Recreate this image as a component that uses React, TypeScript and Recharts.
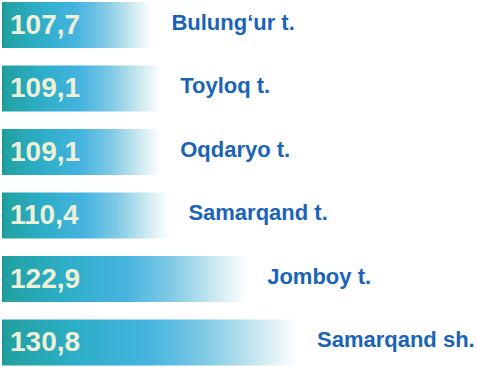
import React from 'react';
import { BarChart, Bar, XAxis, YAxis, LabelList } from 'recharts';

const categories = ['Bulung‘ur t.', 'Toyloq t.', 'Oqdaryo t.', 'Samarqand t.', 'Jomboy t.', 'Samarqand sh.'];
const values = [107.7, 109.1, 109.1, 110.4, 122.9, 130.8];

const data = categories.map((name, i) => ({ name, value: values[i] }));

const fmt = (v: number) => v.toFixed(1).replace('.', ',');

function ValueLabel(props: any) {
  const { x, y, height, value } = props;
  return (
    <text
      x={x + 8}
      y={y + height / 2 - 1}
      dominantBaseline="central"
      fill="#eef0d8"
      fontSize={28}
      fontWeight={700}
      fontFamily="Liberation Sans, Arial, sans-serif"
    >
      {fmt(Number(value))}
    </text>
  );
}

function NameLabel(props: any) {
  const { x, y, width, height, index } = props;
  return (
    <text
      x={x + width + 20}
      y={y + height / 2 - 3}
      dominantBaseline="central"
      fill="#1a64b8"
      fontSize={22}
      fontWeight={700}
      fontFamily="Liberation Sans, Arial, sans-serif"
    >
      {categories[index]}
    </text>
  );
}

export default function App() {
  return (
    <div style={{ position: 'absolute', left: 0, top: 0, width: 477, height: 367, overflow: 'hidden', background: '#fff' }}>
      <div style={{ marginTop: -7 }}>
        <BarChart
          width={477}
          height={381}
          data={data}
          layout="vertical"
          margin={{ top: 0, right: 59, bottom: 0, left: 2 }}
        >
          <defs>
            <linearGradient id="barFill" x1="0" y1="0" x2="1" y2="0">
              <stop offset="0%" stopColor="#1b9a96" />
              <stop offset="3%" stopColor="#22a2a4" />
              <stop offset="25%" stopColor="#2daec8" />
              <stop offset="50%" stopColor="#46b4e0" />
              <stop offset="68%" stopColor="#7cc8e4" />
              <stop offset="87%" stopColor="#cbe9f0" />
              <stop offset="100%" stopColor="#ffffff" />
            </linearGradient>
          </defs>
          <XAxis type="number" domain={[84, 150]} hide allowDataOverflow />
          <YAxis type="category" dataKey="name" hide />
          <Bar dataKey="value" fill="url(#barFill)" barSize={46} isAnimationActive={false}>
            <LabelList dataKey="value" content={<ValueLabel />} />
            <LabelList dataKey="name" content={<NameLabel />} />
          </Bar>
        </BarChart>
      </div>
    </div>
  );
}
